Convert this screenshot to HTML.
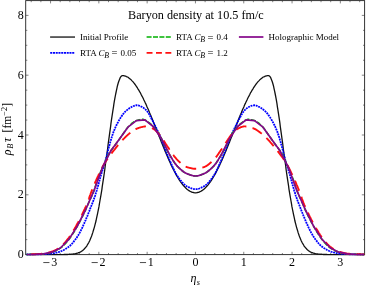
<!DOCTYPE html>
<html><head><meta charset="utf-8"><title>Baryon density</title>
<style>
html,body{margin:0;padding:0;background:#fff;}
body{width:366px;height:286px;overflow:hidden;font-family:"Liberation Serif",serif;}
svg{display:block;will-change:transform;}
text{font-family:"Liberation Serif",serif;fill:#000;}
</style></head><body>
<svg width="366" height="286" viewBox="0 0 366 286">
<rect x="0" y="0" width="366" height="286" fill="#fff"/>
<defs><clipPath id="cp"><rect x="24.7" y="-0.4" width="340.90000000000003" height="256.2"/></clipPath></defs>
<rect x="25.7" y="0.6" width="338.90000000000003" height="254.0" fill="none" stroke="#2a2a2a" stroke-width="0.95"/>
<g stroke="#333" stroke-width="0.6">
<line x1="31.23" y1="254.6" x2="31.23" y2="253.0"/><line x1="31.23" y1="0.6" x2="31.23" y2="2.2"/><line x1="40.89" y1="254.6" x2="40.89" y2="253.0"/><line x1="40.89" y1="0.6" x2="40.89" y2="2.2"/><line x1="50.55" y1="254.6" x2="50.55" y2="251.79999999999998"/><line x1="50.55" y1="0.6" x2="50.55" y2="3.4"/><line x1="60.21" y1="254.6" x2="60.21" y2="253.0"/><line x1="60.21" y1="0.6" x2="60.21" y2="2.2"/><line x1="69.87" y1="254.6" x2="69.87" y2="253.0"/><line x1="69.87" y1="0.6" x2="69.87" y2="2.2"/><line x1="79.53" y1="254.6" x2="79.53" y2="253.0"/><line x1="79.53" y1="0.6" x2="79.53" y2="2.2"/><line x1="89.19" y1="254.6" x2="89.19" y2="253.0"/><line x1="89.19" y1="0.6" x2="89.19" y2="2.2"/><line x1="98.85" y1="254.6" x2="98.85" y2="251.79999999999998"/><line x1="98.85" y1="0.6" x2="98.85" y2="3.4"/><line x1="108.51" y1="254.6" x2="108.51" y2="253.0"/><line x1="108.51" y1="0.6" x2="108.51" y2="2.2"/><line x1="118.17" y1="254.6" x2="118.17" y2="253.0"/><line x1="118.17" y1="0.6" x2="118.17" y2="2.2"/><line x1="127.83" y1="254.6" x2="127.83" y2="253.0"/><line x1="127.83" y1="0.6" x2="127.83" y2="2.2"/><line x1="137.49" y1="254.6" x2="137.49" y2="253.0"/><line x1="137.49" y1="0.6" x2="137.49" y2="2.2"/><line x1="147.15" y1="254.6" x2="147.15" y2="251.79999999999998"/><line x1="147.15" y1="0.6" x2="147.15" y2="3.4"/><line x1="156.81" y1="254.6" x2="156.81" y2="253.0"/><line x1="156.81" y1="0.6" x2="156.81" y2="2.2"/><line x1="166.47" y1="254.6" x2="166.47" y2="253.0"/><line x1="166.47" y1="0.6" x2="166.47" y2="2.2"/><line x1="176.13" y1="254.6" x2="176.13" y2="253.0"/><line x1="176.13" y1="0.6" x2="176.13" y2="2.2"/><line x1="185.79" y1="254.6" x2="185.79" y2="253.0"/><line x1="185.79" y1="0.6" x2="185.79" y2="2.2"/><line x1="195.45" y1="254.6" x2="195.45" y2="251.79999999999998"/><line x1="195.45" y1="0.6" x2="195.45" y2="3.4"/><line x1="205.11" y1="254.6" x2="205.11" y2="253.0"/><line x1="205.11" y1="0.6" x2="205.11" y2="2.2"/><line x1="214.77" y1="254.6" x2="214.77" y2="253.0"/><line x1="214.77" y1="0.6" x2="214.77" y2="2.2"/><line x1="224.43" y1="254.6" x2="224.43" y2="253.0"/><line x1="224.43" y1="0.6" x2="224.43" y2="2.2"/><line x1="234.09" y1="254.6" x2="234.09" y2="253.0"/><line x1="234.09" y1="0.6" x2="234.09" y2="2.2"/><line x1="243.75" y1="254.6" x2="243.75" y2="251.79999999999998"/><line x1="243.75" y1="0.6" x2="243.75" y2="3.4"/><line x1="253.41" y1="254.6" x2="253.41" y2="253.0"/><line x1="253.41" y1="0.6" x2="253.41" y2="2.2"/><line x1="263.07" y1="254.6" x2="263.07" y2="253.0"/><line x1="263.07" y1="0.6" x2="263.07" y2="2.2"/><line x1="272.73" y1="254.6" x2="272.73" y2="253.0"/><line x1="272.73" y1="0.6" x2="272.73" y2="2.2"/><line x1="282.39" y1="254.6" x2="282.39" y2="253.0"/><line x1="282.39" y1="0.6" x2="282.39" y2="2.2"/><line x1="292.05" y1="254.6" x2="292.05" y2="251.79999999999998"/><line x1="292.05" y1="0.6" x2="292.05" y2="3.4"/><line x1="301.71" y1="254.6" x2="301.71" y2="253.0"/><line x1="301.71" y1="0.6" x2="301.71" y2="2.2"/><line x1="311.37" y1="254.6" x2="311.37" y2="253.0"/><line x1="311.37" y1="0.6" x2="311.37" y2="2.2"/><line x1="321.03" y1="254.6" x2="321.03" y2="253.0"/><line x1="321.03" y1="0.6" x2="321.03" y2="2.2"/><line x1="330.69" y1="254.6" x2="330.69" y2="253.0"/><line x1="330.69" y1="0.6" x2="330.69" y2="2.2"/><line x1="340.35" y1="254.6" x2="340.35" y2="251.79999999999998"/><line x1="340.35" y1="0.6" x2="340.35" y2="3.4"/><line x1="350.01" y1="254.6" x2="350.01" y2="253.0"/><line x1="350.01" y1="0.6" x2="350.01" y2="2.2"/><line x1="359.67" y1="254.6" x2="359.67" y2="253.0"/><line x1="359.67" y1="0.6" x2="359.67" y2="2.2"/><line x1="25.7" y1="254.60" x2="28.5" y2="254.60"/><line x1="364.6" y1="254.60" x2="361.8" y2="254.60"/><line x1="25.7" y1="239.65" x2="27.3" y2="239.65"/><line x1="364.6" y1="239.65" x2="363.0" y2="239.65"/><line x1="25.7" y1="224.70" x2="27.3" y2="224.70"/><line x1="364.6" y1="224.70" x2="363.0" y2="224.70"/><line x1="25.7" y1="209.75" x2="27.3" y2="209.75"/><line x1="364.6" y1="209.75" x2="363.0" y2="209.75"/><line x1="25.7" y1="194.80" x2="28.5" y2="194.80"/><line x1="364.6" y1="194.80" x2="361.8" y2="194.80"/><line x1="25.7" y1="179.85" x2="27.3" y2="179.85"/><line x1="364.6" y1="179.85" x2="363.0" y2="179.85"/><line x1="25.7" y1="164.90" x2="27.3" y2="164.90"/><line x1="364.6" y1="164.90" x2="363.0" y2="164.90"/><line x1="25.7" y1="149.95" x2="27.3" y2="149.95"/><line x1="364.6" y1="149.95" x2="363.0" y2="149.95"/><line x1="25.7" y1="135.00" x2="28.5" y2="135.00"/><line x1="364.6" y1="135.00" x2="361.8" y2="135.00"/><line x1="25.7" y1="120.05" x2="27.3" y2="120.05"/><line x1="364.6" y1="120.05" x2="363.0" y2="120.05"/><line x1="25.7" y1="105.10" x2="27.3" y2="105.10"/><line x1="364.6" y1="105.10" x2="363.0" y2="105.10"/><line x1="25.7" y1="90.15" x2="27.3" y2="90.15"/><line x1="364.6" y1="90.15" x2="363.0" y2="90.15"/><line x1="25.7" y1="75.20" x2="28.5" y2="75.20"/><line x1="364.6" y1="75.20" x2="361.8" y2="75.20"/><line x1="25.7" y1="60.25" x2="27.3" y2="60.25"/><line x1="364.6" y1="60.25" x2="363.0" y2="60.25"/><line x1="25.7" y1="45.30" x2="27.3" y2="45.30"/><line x1="364.6" y1="45.30" x2="363.0" y2="45.30"/><line x1="25.7" y1="30.35" x2="27.3" y2="30.35"/><line x1="364.6" y1="30.35" x2="363.0" y2="30.35"/><line x1="25.7" y1="15.40" x2="28.5" y2="15.40"/><line x1="364.6" y1="15.40" x2="361.8" y2="15.40"/>
</g>
<g clip-path="url(#cp)" fill="none" stroke-linejoin="round">
<path d="M26.4,254.6 L26.9,254.6 L27.4,254.6 L27.9,254.6 L28.3,254.6 L28.8,254.6 L29.3,254.6 L29.8,254.6 L30.3,254.6 L30.8,254.6 L31.2,254.6 L31.7,254.6 L32.2,254.6 L32.7,254.6 L33.2,254.6 L33.7,254.6 L34.1,254.6 L34.6,254.6 L35.1,254.6 L35.6,254.6 L36.1,254.6 L36.6,254.6 L37.0,254.6 L37.5,254.6 L38.0,254.6 L38.5,254.6 L39.0,254.6 L39.5,254.6 L39.9,254.6 L40.4,254.6 L40.9,254.6 L41.4,254.6 L41.9,254.6 L42.4,254.6 L42.8,254.6 L43.3,254.6 L43.8,254.6 L44.3,254.6 L44.8,254.6 L45.3,254.6 L45.7,254.6 L46.2,254.6 L46.7,254.6 L47.2,254.6 L47.7,254.6 L48.2,254.6 L48.6,254.6 L49.1,254.6 L49.6,254.6 L50.1,254.6 L50.6,254.6 L51.1,254.6 L51.6,254.6 L52.0,254.6 L52.5,254.6 L53.0,254.6 L53.5,254.6 L54.0,254.6 L54.5,254.6 L54.9,254.6 L55.4,254.6 L55.9,254.6 L56.4,254.6 L56.9,254.6 L57.4,254.6 L57.8,254.6 L58.3,254.6 L58.8,254.6 L59.3,254.6 L59.8,254.6 L60.3,254.6 L60.7,254.6 L61.2,254.6 L61.7,254.6 L62.2,254.6 L62.7,254.6 L63.2,254.6 L63.6,254.6 L64.1,254.5 L64.6,254.5 L65.1,254.5 L65.6,254.5 L66.1,254.5 L66.5,254.5 L67.0,254.5 L67.5,254.5 L68.0,254.4 L68.5,254.4 L69.0,254.4 L69.4,254.4 L69.9,254.3 L70.4,254.3 L70.9,254.3 L71.4,254.2 L71.9,254.2 L72.4,254.1 L72.8,254.1 L73.3,254.0 L73.8,254.0 L74.3,253.9 L74.8,253.8 L75.3,253.7 L75.7,253.6 L76.2,253.5 L76.7,253.4 L77.2,253.2 L77.7,253.1 L78.2,252.9 L78.6,252.7 L79.1,252.5 L79.6,252.3 L80.1,252.1 L80.6,251.8 L81.1,251.6 L81.5,251.3 L82.0,250.9 L82.5,250.6 L83.0,250.2 L83.5,249.8 L84.0,249.3 L84.4,248.8 L84.9,248.3 L85.4,247.7 L85.9,247.1 L86.4,246.5 L86.9,245.8 L87.3,245.0 L87.8,244.2 L88.3,243.4 L88.8,242.5 L89.3,241.5 L89.8,240.5 L90.2,239.4 L90.7,238.2 L91.2,237.0 L91.7,235.7 L92.2,234.3 L92.7,232.9 L93.1,231.4 L93.6,229.7 L94.1,228.1 L94.6,226.3 L95.1,224.4 L95.6,222.5 L96.1,220.5 L96.5,218.3 L97.0,216.1 L97.5,213.8 L98.0,211.4 L98.5,209.0 L99.0,206.4 L99.4,203.8 L99.9,201.0 L100.4,198.2 L100.9,195.3 L101.4,192.3 L101.9,189.3 L102.3,186.1 L102.8,182.9 L103.3,179.7 L103.8,176.3 L104.3,173.0 L104.8,169.5 L105.2,166.0 L105.7,162.5 L106.2,158.9 L106.7,155.4 L107.2,151.8 L107.7,148.1 L108.1,144.5 L108.6,140.9 L109.1,137.3 L109.6,133.7 L110.1,130.1 L110.6,126.6 L111.0,123.2 L111.5,119.7 L112.0,116.4 L112.5,113.1 L113.0,109.9 L113.5,106.8 L113.9,103.8 L114.4,100.9 L114.9,98.2 L115.4,95.5 L115.9,93.0 L116.4,90.7 L116.9,88.4 L117.3,86.4 L117.8,84.5 L118.3,82.8 L118.8,81.2 L119.3,79.9 L119.8,78.7 L120.2,77.7 L120.7,76.9 L121.2,76.3 L121.7,75.9 L122.2,75.7 L122.7,75.6 L123.1,75.7 L123.6,75.7 L124.1,75.8 L124.6,75.9 L125.1,76.0 L125.6,76.2 L126.0,76.3 L126.5,76.6 L127.0,76.8 L127.5,77.0 L128.0,77.3 L128.5,77.6 L128.9,78.0 L129.4,78.4 L129.9,78.7 L130.4,79.2 L130.9,79.6 L131.4,80.1 L131.8,80.6 L132.3,81.1 L132.8,81.6 L133.3,82.2 L133.8,82.8 L134.3,83.4 L134.7,84.0 L135.2,84.7 L135.7,85.4 L136.2,86.1 L136.7,86.8 L137.2,87.5 L137.6,88.3 L138.1,89.1 L138.6,89.9 L139.1,90.7 L139.6,91.6 L140.1,92.4 L140.6,93.3 L141.0,94.2 L141.5,95.1 L142.0,96.1 L142.5,97.0 L143.0,98.0 L143.5,99.0 L143.9,100.0 L144.4,101.0 L144.9,102.0 L145.4,103.1 L145.9,104.1 L146.4,105.2 L146.8,106.3 L147.3,107.4 L147.8,108.5 L148.3,109.6 L148.8,110.7 L149.3,111.9 L149.7,113.0 L150.2,114.2 L150.7,115.3 L151.2,116.5 L151.7,117.7 L152.2,118.9 L152.6,120.1 L153.1,121.3 L153.6,122.5 L154.1,123.7 L154.6,124.9 L155.1,126.1 L155.5,127.3 L156.0,128.5 L156.5,129.7 L157.0,131.0 L157.5,132.2 L158.0,133.4 L158.4,134.6 L158.9,135.9 L159.4,137.1 L159.9,138.3 L160.4,139.5 L160.9,140.7 L161.3,141.9 L161.8,143.1 L162.3,144.3 L162.8,145.5 L163.3,146.7 L163.8,147.9 L164.3,149.1 L164.7,150.2 L165.2,151.4 L165.7,152.6 L166.2,153.7 L166.7,154.8 L167.2,156.0 L167.6,157.1 L168.1,158.2 L168.6,159.3 L169.1,160.4 L169.6,161.4 L170.1,162.5 L170.5,163.5 L171.0,164.6 L171.5,165.6 L172.0,166.6 L172.5,167.6 L173.0,168.6 L173.4,169.5 L173.9,170.5 L174.4,171.4 L174.9,172.3 L175.4,173.2 L175.9,174.1 L176.3,175.0 L176.8,175.8 L177.3,176.7 L177.8,177.5 L178.3,178.3 L178.8,179.1 L179.2,179.8 L179.7,180.5 L180.2,181.3 L180.7,182.0 L181.2,182.6 L181.7,183.3 L182.1,183.9 L182.6,184.6 L183.1,185.2 L183.6,185.7 L184.1,186.3 L184.6,186.8 L185.1,187.3 L185.5,187.8 L186.0,188.3 L186.5,188.7 L187.0,189.2 L187.5,189.6 L188.0,189.9 L188.4,190.3 L188.9,190.6 L189.4,190.9 L189.9,191.2 L190.4,191.5 L190.9,191.7 L191.3,191.9 L191.8,192.1 L192.3,192.3 L192.8,192.4 L193.3,192.5 L193.8,192.6 L194.2,192.7 L194.7,192.8 L195.2,192.8 L195.7,192.8 L196.2,192.8 L196.7,192.7 L197.1,192.6 L197.6,192.5 L198.1,192.4 L198.6,192.3 L199.1,192.1 L199.6,191.9 L200.0,191.7 L200.5,191.5 L201.0,191.2 L201.5,190.9 L202.0,190.6 L202.5,190.3 L202.9,189.9 L203.4,189.6 L203.9,189.2 L204.4,188.7 L204.9,188.3 L205.4,187.8 L205.8,187.3 L206.3,186.8 L206.8,186.3 L207.3,185.7 L207.8,185.2 L208.3,184.6 L208.8,183.9 L209.2,183.3 L209.7,182.6 L210.2,182.0 L210.7,181.3 L211.2,180.5 L211.7,179.8 L212.1,179.1 L212.6,178.3 L213.1,177.5 L213.6,176.7 L214.1,175.8 L214.6,175.0 L215.0,174.1 L215.5,173.2 L216.0,172.3 L216.5,171.4 L217.0,170.5 L217.5,169.5 L217.9,168.6 L218.4,167.6 L218.9,166.6 L219.4,165.6 L219.9,164.6 L220.4,163.5 L220.8,162.5 L221.3,161.4 L221.8,160.4 L222.3,159.3 L222.8,158.2 L223.3,157.1 L223.7,156.0 L224.2,154.8 L224.7,153.7 L225.2,152.6 L225.7,151.4 L226.2,150.2 L226.6,149.1 L227.1,147.9 L227.6,146.7 L228.1,145.5 L228.6,144.3 L229.1,143.1 L229.6,141.9 L230.0,140.7 L230.5,139.5 L231.0,138.3 L231.5,137.1 L232.0,135.9 L232.5,134.6 L232.9,133.4 L233.4,132.2 L233.9,131.0 L234.4,129.7 L234.9,128.5 L235.4,127.3 L235.8,126.1 L236.3,124.9 L236.8,123.7 L237.3,122.5 L237.8,121.3 L238.3,120.1 L238.7,118.9 L239.2,117.7 L239.7,116.5 L240.2,115.3 L240.7,114.2 L241.2,113.0 L241.6,111.9 L242.1,110.7 L242.6,109.6 L243.1,108.5 L243.6,107.4 L244.1,106.3 L244.5,105.2 L245.0,104.1 L245.5,103.1 L246.0,102.0 L246.5,101.0 L247.0,100.0 L247.4,99.0 L247.9,98.0 L248.4,97.0 L248.9,96.1 L249.4,95.1 L249.9,94.2 L250.3,93.3 L250.8,92.4 L251.3,91.6 L251.8,90.7 L252.3,89.9 L252.8,89.1 L253.3,88.3 L253.7,87.5 L254.2,86.8 L254.7,86.1 L255.2,85.4 L255.7,84.7 L256.2,84.0 L256.6,83.4 L257.1,82.8 L257.6,82.2 L258.1,81.6 L258.6,81.1 L259.1,80.6 L259.5,80.1 L260.0,79.6 L260.5,79.2 L261.0,78.7 L261.5,78.4 L262.0,78.0 L262.4,77.6 L262.9,77.3 L263.4,77.0 L263.9,76.8 L264.4,76.6 L264.9,76.3 L265.3,76.2 L265.8,76.0 L266.3,75.9 L266.8,75.8 L267.3,75.7 L267.8,75.7 L268.2,75.6 L268.7,75.7 L269.2,75.9 L269.7,76.3 L270.2,76.9 L270.7,77.7 L271.1,78.7 L271.6,79.9 L272.1,81.2 L272.6,82.8 L273.1,84.5 L273.6,86.4 L274.0,88.4 L274.5,90.7 L275.0,93.0 L275.5,95.5 L276.0,98.2 L276.5,100.9 L277.0,103.8 L277.4,106.8 L277.9,109.9 L278.4,113.1 L278.9,116.4 L279.4,119.7 L279.9,123.2 L280.3,126.6 L280.8,130.1 L281.3,133.7 L281.8,137.3 L282.3,140.9 L282.8,144.5 L283.2,148.1 L283.7,151.8 L284.2,155.4 L284.7,158.9 L285.2,162.5 L285.7,166.0 L286.1,169.5 L286.6,173.0 L287.1,176.3 L287.6,179.7 L288.1,182.9 L288.6,186.1 L289.0,189.3 L289.5,192.3 L290.0,195.3 L290.5,198.2 L291.0,201.0 L291.5,203.8 L291.9,206.4 L292.4,209.0 L292.9,211.4 L293.4,213.8 L293.9,216.1 L294.4,218.3 L294.8,220.5 L295.3,222.5 L295.8,224.4 L296.3,226.3 L296.8,228.1 L297.3,229.7 L297.8,231.4 L298.2,232.9 L298.7,234.3 L299.2,235.7 L299.7,237.0 L300.2,238.2 L300.7,239.4 L301.1,240.5 L301.6,241.5 L302.1,242.5 L302.6,243.4 L303.1,244.2 L303.6,245.0 L304.0,245.8 L304.5,246.5 L305.0,247.1 L305.5,247.7 L306.0,248.3 L306.5,248.8 L306.9,249.3 L307.4,249.8 L307.9,250.2 L308.4,250.6 L308.9,250.9 L309.4,251.3 L309.8,251.6 L310.3,251.8 L310.8,252.1 L311.3,252.3 L311.8,252.5 L312.3,252.7 L312.7,252.9 L313.2,253.1 L313.7,253.2 L314.2,253.4 L314.7,253.5 L315.2,253.6 L315.6,253.7 L316.1,253.8 L316.6,253.9 L317.1,254.0 L317.6,254.0 L318.1,254.1 L318.5,254.1 L319.0,254.2 L319.5,254.2 L320.0,254.3 L320.5,254.3 L321.0,254.3 L321.5,254.4 L321.9,254.4 L322.4,254.4 L322.9,254.4 L323.4,254.5 L323.9,254.5 L324.4,254.5 L324.8,254.5 L325.3,254.5 L325.8,254.5 L326.3,254.5 L326.8,254.5 L327.3,254.6 L327.7,254.6 L328.2,254.6 L328.7,254.6 L329.2,254.6 L329.7,254.6 L330.2,254.6 L330.6,254.6 L331.1,254.6 L331.6,254.6 L332.1,254.6 L332.6,254.6 L333.1,254.6 L333.5,254.6 L334.0,254.6 L334.5,254.6 L335.0,254.6 L335.5,254.6 L336.0,254.6 L336.4,254.6 L336.9,254.6 L337.4,254.6 L337.9,254.6 L338.4,254.6 L338.9,254.6 L339.3,254.6 L339.8,254.6 L340.3,254.6 L340.8,254.6 L341.3,254.6 L341.8,254.6 L342.3,254.6 L342.7,254.6 L343.2,254.6 L343.7,254.6 L344.2,254.6 L344.7,254.6 L345.2,254.6 L345.6,254.6 L346.1,254.6 L346.6,254.6 L347.1,254.6 L347.6,254.6 L348.1,254.6 L348.5,254.6 L349.0,254.6 L349.5,254.6 L350.0,254.6 L350.5,254.6 L351.0,254.6 L351.4,254.6 L351.9,254.6 L352.4,254.6 L352.9,254.6 L353.4,254.6 L353.9,254.6 L354.3,254.6 L354.8,254.6 L355.3,254.6 L355.8,254.6 L356.3,254.6 L356.8,254.6 L357.2,254.6 L357.7,254.6 L358.2,254.6 L358.7,254.6 L359.2,254.6 L359.7,254.6 L360.1,254.6 L360.6,254.6 L361.1,254.6 L361.6,254.6 L362.1,254.6 L362.6,254.6 L363.0,254.6 L363.5,254.6 L364.0,254.6 L364.5,254.6" stroke="#111" stroke-width="1.3"/>
<path d="M26.5,254.5 L27.3,254.5 L28.2,254.5 L29.0,254.5 L29.9,254.5 L30.7,254.5 L31.6,254.5 L32.4,254.5 L33.3,254.4 L34.1,254.4 L35.0,254.4 L35.8,254.4 L36.7,254.4 L37.5,254.4 L38.4,254.3 L39.2,254.3 L40.0,254.3 L40.9,254.3 L41.7,254.3 L42.6,254.2 L43.4,254.2 L44.3,254.1 L45.1,254.1 L46.0,254.1 L46.8,254.0 L47.7,253.9 L48.5,253.9 L49.4,253.8 L50.2,253.7 L51.1,253.6 L51.9,253.5 L52.8,253.4 L53.6,253.2 L54.4,253.1 L55.3,252.9 L56.1,252.7 L57.0,252.5 L57.8,252.2 L58.7,252.0 L59.5,251.8 L60.4,251.5 L61.2,251.2 L62.1,250.8 L62.9,250.4 L63.8,250.0 L64.6,249.5 L65.5,249.0 L66.3,248.4 L67.1,247.9 L68.0,247.3 L68.8,246.7 L69.7,246.0 L70.5,245.3 L71.4,244.4 L72.2,243.5 L73.1,242.5 L73.9,241.4 L74.8,240.3 L75.6,239.2 L76.5,238.0 L77.3,236.7 L78.2,235.4 L79.0,233.9 L79.9,232.4 L80.7,230.8 L81.5,229.1 L82.4,227.4 L83.2,225.5 L84.1,223.6 L84.9,221.7 L85.8,219.7 L86.6,217.7 L87.5,215.6 L88.3,213.5 L89.2,211.4 L90.0,209.2 L90.9,207.0 L91.7,204.8 L92.6,202.7 L93.4,200.5 L94.2,198.2 L95.1,195.7 L95.9,193.1 L96.8,190.2 L97.6,187.3 L98.5,184.3 L99.3,181.2 L100.2,177.9 L101.0,174.9 L101.9,172.1 L102.7,169.5 L103.6,166.8 L104.4,164.1 L105.3,161.2 L106.1,158.1 L107.0,154.8 L107.8,151.5 L108.6,148.2 L109.5,145.1 L110.3,142.1 L111.2,139.1 L112.0,136.3 L112.9,133.7 L113.7,131.4 L114.6,129.3 L115.4,127.4 L116.3,125.5 L117.1,123.8 L118.0,122.2 L118.8,120.7 L119.7,119.3 L120.5,117.9 L121.3,116.6 L122.2,115.4 L123.0,114.2 L123.9,113.1 L124.7,112.2 L125.6,111.3 L126.4,110.6 L127.3,109.8 L128.1,109.2 L129.0,108.5 L129.8,108.0 L130.7,107.5 L131.5,107.0 L132.4,106.6 L133.2,106.2 L134.1,105.8 L134.9,105.5 L135.7,105.3 L136.6,105.2 L137.4,105.3 L138.3,105.4 L139.1,105.7 L140.0,106.0 L140.8,106.4 L141.7,106.8 L142.5,107.2 L143.4,107.7 L144.2,108.4 L145.1,109.1 L145.9,109.9 L146.8,110.9 L147.6,111.8 L148.4,113.0 L149.3,114.5 L150.1,116.0 L151.0,117.7 L151.8,119.3 L152.7,120.9 L153.5,122.6 L154.4,124.3 L155.2,126.0 L156.1,127.7 L156.9,129.5 L157.8,131.2 L158.6,133.0 L159.5,134.9 L160.3,136.9 L161.2,139.0 L162.0,141.1 L162.8,143.3 L163.7,145.5 L164.5,147.7 L165.4,149.9 L166.2,152.0 L167.1,154.1 L167.9,156.1 L168.8,158.1 L169.6,160.0 L170.5,162.0 L171.3,164.0 L172.2,165.9 L173.0,167.8 L173.9,169.6 L174.7,171.3 L175.5,173.0 L176.4,174.5 L177.2,175.8 L178.1,177.0 L178.9,178.2 L179.8,179.3 L180.6,180.4 L181.5,181.5 L182.3,182.4 L183.2,183.4 L184.0,184.2 L184.9,184.9 L185.7,185.6 L186.6,186.2 L187.4,186.6 L188.3,187.0 L189.1,187.4 L189.9,187.8 L190.8,188.1 L191.6,188.4 L192.5,188.7 L193.3,188.9 L194.2,189.1 L195.0,189.2 L195.9,189.2 L196.7,189.1 L197.6,189.0 L198.4,188.8 L199.3,188.5 L200.1,188.2 L201.0,187.8 L201.8,187.4 L202.6,187.0 L203.5,186.6 L204.3,186.1 L205.2,185.6 L206.0,184.9 L206.9,184.2 L207.7,183.3 L208.6,182.4 L209.4,181.4 L210.3,180.4 L211.1,179.3 L212.0,178.2 L212.8,177.0 L213.7,175.8 L214.5,174.5 L215.4,173.0 L216.2,171.3 L217.0,169.6 L217.9,167.8 L218.7,165.9 L219.6,164.0 L220.4,162.0 L221.3,160.0 L222.1,158.1 L223.0,156.1 L223.8,154.1 L224.7,152.0 L225.5,149.9 L226.4,147.7 L227.2,145.5 L228.1,143.3 L228.9,141.1 L229.7,139.0 L230.6,136.9 L231.4,134.9 L232.3,133.0 L233.1,131.2 L234.0,129.5 L234.8,127.7 L235.7,126.0 L236.5,124.3 L237.4,122.6 L238.2,120.9 L239.1,119.3 L239.9,117.7 L240.8,116.0 L241.6,114.5 L242.5,113.0 L243.3,111.8 L244.1,110.9 L245.0,109.9 L245.8,109.1 L246.7,108.4 L247.5,107.7 L248.4,107.2 L249.2,106.8 L250.1,106.4 L250.9,106.0 L251.8,105.7 L252.6,105.4 L253.5,105.3 L254.3,105.2 L255.2,105.3 L256.0,105.5 L256.8,105.8 L257.7,106.2 L258.5,106.6 L259.4,107.0 L260.2,107.5 L261.1,108.0 L261.9,108.5 L262.8,109.2 L263.6,109.8 L264.5,110.6 L265.3,111.3 L266.2,112.2 L267.0,113.1 L267.9,114.2 L268.7,115.4 L269.6,116.6 L270.4,117.9 L271.2,119.3 L272.1,120.7 L272.9,122.2 L273.8,123.8 L274.6,125.5 L275.5,127.4 L276.3,129.3 L277.2,131.4 L278.0,133.7 L278.9,136.3 L279.7,139.1 L280.6,142.1 L281.4,145.1 L282.3,148.2 L283.1,151.5 L283.9,154.8 L284.8,158.1 L285.6,161.2 L286.5,164.1 L287.3,166.8 L288.2,169.5 L289.0,172.1 L289.9,174.9 L290.7,177.9 L291.6,181.2 L292.4,184.3 L293.3,187.3 L294.1,190.2 L295.0,193.1 L295.8,195.7 L296.7,198.2 L297.5,200.5 L298.3,202.7 L299.2,204.8 L300.0,207.0 L300.9,209.2 L301.7,211.4 L302.6,213.5 L303.4,215.6 L304.3,217.7 L305.1,219.7 L306.0,221.7 L306.8,223.6 L307.7,225.5 L308.5,227.4 L309.4,229.1 L310.2,230.8 L311.0,232.4 L311.9,233.9 L312.7,235.4 L313.6,236.7 L314.4,238.0 L315.3,239.2 L316.1,240.3 L317.0,241.4 L317.8,242.5 L318.7,243.5 L319.5,244.4 L320.4,245.3 L321.2,246.0 L322.1,246.7 L322.9,247.3 L323.8,247.9 L324.6,248.4 L325.4,249.0 L326.3,249.5 L327.1,250.0 L328.0,250.4 L328.8,250.8 L329.7,251.2 L330.5,251.5 L331.4,251.8 L332.2,252.0 L333.1,252.2 L333.9,252.5 L334.8,252.7 L335.6,252.9 L336.5,253.1 L337.3,253.2 L338.1,253.4 L339.0,253.5 L339.8,253.6 L340.7,253.7 L341.5,253.8 L342.4,253.9 L343.2,253.9 L344.1,254.0 L344.9,254.1 L345.8,254.1 L346.6,254.1 L347.5,254.2 L348.3,254.2 L349.2,254.3 L350.0,254.3 L350.9,254.3 L351.7,254.3 L352.5,254.3 L353.4,254.4 L354.2,254.4 L355.1,254.4 L355.9,254.4 L356.8,254.4 L357.6,254.4 L358.5,254.5 L359.3,254.5 L360.2,254.5 L361.0,254.5 L361.9,254.5 L362.7,254.5 L363.6,254.5 L364.4,254.5" stroke="#0000ff" stroke-width="1.8" stroke-dasharray="1.9 0.75"/>
<path d="M26.5,254.5 L27.3,254.5 L28.2,254.5 L29.0,254.5 L29.9,254.5 L30.7,254.4 L31.6,254.4 L32.4,254.4 L33.3,254.4 L34.1,254.4 L35.0,254.3 L35.8,254.3 L36.7,254.3 L37.5,254.2 L38.4,254.2 L39.2,254.2 L40.0,254.1 L40.9,254.1 L41.7,254.0 L42.6,254.0 L43.4,253.9 L44.3,253.8 L45.1,253.8 L46.0,253.6 L46.8,253.5 L47.7,253.3 L48.5,253.2 L49.4,252.9 L50.2,252.7 L51.1,252.5 L51.9,252.2 L52.8,251.9 L53.6,251.6 L54.4,251.3 L55.3,251.0 L56.1,250.6 L57.0,250.2 L57.8,249.7 L58.7,249.2 L59.5,248.6 L60.4,248.0 L61.2,247.4 L62.1,246.8 L62.9,246.1 L63.8,245.3 L64.6,244.4 L65.5,243.5 L66.3,242.5 L67.1,241.5 L68.0,240.5 L68.8,239.5 L69.7,238.4 L70.5,237.2 L71.4,236.0 L72.2,234.7 L73.1,233.3 L73.9,232.0 L74.8,230.6 L75.6,229.2 L76.5,227.7 L77.3,226.2 L78.2,224.6 L79.0,223.1 L79.9,221.5 L80.7,219.9 L81.5,218.3 L82.4,216.6 L83.2,214.9 L84.1,213.1 L84.9,211.3 L85.8,209.4 L86.6,207.4 L87.5,205.5 L88.3,203.5 L89.2,201.6 L90.0,199.7 L90.9,197.9 L91.7,196.1 L92.6,194.2 L93.4,192.1 L94.2,189.9 L95.1,187.3 L95.9,184.7 L96.8,182.1 L97.6,179.7 L98.5,177.3 L99.3,175.0 L100.2,172.8 L101.0,170.7 L101.9,168.8 L102.7,166.9 L103.6,165.1 L104.4,163.3 L105.3,161.5 L106.1,159.6 L107.0,157.8 L107.8,156.0 L108.6,154.4 L109.5,152.9 L110.3,151.6 L111.2,150.3 L112.0,149.2 L112.9,148.1 L113.7,147.0 L114.6,145.9 L115.4,144.7 L116.3,143.5 L117.1,142.3 L118.0,141.1 L118.8,139.9 L119.7,138.7 L120.5,137.5 L121.3,136.3 L122.2,135.2 L123.0,134.0 L123.9,132.7 L124.7,131.5 L125.6,130.3 L126.4,129.1 L127.3,128.0 L128.1,127.0 L129.0,126.1 L129.8,125.3 L130.7,124.5 L131.5,123.7 L132.4,123.0 L133.2,122.3 L134.1,121.7 L134.9,121.2 L135.7,120.8 L136.6,120.5 L137.4,120.2 L138.3,120.0 L139.1,119.8 L140.0,119.6 L140.8,119.4 L141.7,119.3 L142.5,119.3 L143.4,119.4 L144.2,119.7 L145.1,120.0 L145.9,120.5 L146.8,121.1 L147.6,121.6 L148.4,122.2 L149.3,122.8 L150.1,123.5 L151.0,124.2 L151.8,125.0 L152.7,125.9 L153.5,126.8 L154.4,127.7 L155.2,128.7 L156.1,129.8 L156.9,131.0 L157.8,132.2 L158.6,133.5 L159.5,134.9 L160.3,136.4 L161.2,138.0 L162.0,139.7 L162.8,141.5 L163.7,143.3 L164.5,145.1 L165.4,146.9 L166.2,148.6 L167.1,150.3 L167.9,151.9 L168.8,153.3 L169.6,154.8 L170.5,156.2 L171.3,157.6 L172.2,159.0 L173.0,160.4 L173.9,161.7 L174.7,162.9 L175.5,164.1 L176.4,165.2 L177.2,166.1 L178.1,167.0 L178.9,167.8 L179.8,168.6 L180.6,169.4 L181.5,170.1 L182.3,170.8 L183.2,171.5 L184.0,172.1 L184.9,172.6 L185.7,173.1 L186.6,173.5 L187.4,173.9 L188.3,174.2 L189.1,174.5 L189.9,174.8 L190.8,175.1 L191.6,175.4 L192.5,175.6 L193.3,175.8 L194.2,175.9 L195.0,176.0 L195.9,176.0 L196.7,175.9 L197.6,175.8 L198.4,175.6 L199.3,175.4 L200.1,175.2 L201.0,174.9 L201.8,174.5 L202.6,174.2 L203.5,173.9 L204.3,173.5 L205.2,173.1 L206.0,172.6 L206.9,172.1 L207.7,171.5 L208.6,170.8 L209.4,170.1 L210.3,169.4 L211.1,168.6 L212.0,167.8 L212.8,167.0 L213.7,166.1 L214.5,165.2 L215.4,164.1 L216.2,162.9 L217.0,161.7 L217.9,160.4 L218.7,159.0 L219.6,157.6 L220.4,156.2 L221.3,154.8 L222.1,153.3 L223.0,151.9 L223.8,150.3 L224.7,148.6 L225.5,146.9 L226.4,145.1 L227.2,143.3 L228.1,141.5 L228.9,139.7 L229.7,138.0 L230.6,136.4 L231.4,134.9 L232.3,133.5 L233.1,132.2 L234.0,131.0 L234.8,129.8 L235.7,128.7 L236.5,127.7 L237.4,126.8 L238.2,125.9 L239.1,125.0 L239.9,124.2 L240.8,123.5 L241.6,122.8 L242.5,122.2 L243.3,121.6 L244.1,121.1 L245.0,120.5 L245.8,120.0 L246.7,119.7 L247.5,119.4 L248.4,119.3 L249.2,119.3 L250.1,119.4 L250.9,119.6 L251.8,119.8 L252.6,120.0 L253.5,120.2 L254.3,120.5 L255.2,120.8 L256.0,121.2 L256.8,121.7 L257.7,122.3 L258.5,123.0 L259.4,123.7 L260.2,124.5 L261.1,125.3 L261.9,126.1 L262.8,127.0 L263.6,128.0 L264.5,129.1 L265.3,130.3 L266.2,131.5 L267.0,132.7 L267.9,134.0 L268.7,135.2 L269.6,136.3 L270.4,137.5 L271.2,138.7 L272.1,139.9 L272.9,141.1 L273.8,142.3 L274.6,143.5 L275.5,144.7 L276.3,145.9 L277.2,147.0 L278.0,148.1 L278.9,149.2 L279.7,150.3 L280.6,151.6 L281.4,152.9 L282.3,154.4 L283.1,156.0 L283.9,157.8 L284.8,159.6 L285.6,161.5 L286.5,163.3 L287.3,165.1 L288.2,166.9 L289.0,168.8 L289.9,170.7 L290.7,172.8 L291.6,175.0 L292.4,177.3 L293.3,179.7 L294.1,182.1 L295.0,184.7 L295.8,187.3 L296.7,189.9 L297.5,192.1 L298.3,194.2 L299.2,196.1 L300.0,197.9 L300.9,199.7 L301.7,201.6 L302.6,203.5 L303.4,205.5 L304.3,207.4 L305.1,209.4 L306.0,211.3 L306.8,213.1 L307.7,214.9 L308.5,216.6 L309.4,218.3 L310.2,219.9 L311.0,221.5 L311.9,223.1 L312.7,224.6 L313.6,226.2 L314.4,227.7 L315.3,229.2 L316.1,230.6 L317.0,232.0 L317.8,233.3 L318.7,234.7 L319.5,236.0 L320.4,237.2 L321.2,238.4 L322.1,239.5 L322.9,240.5 L323.8,241.5 L324.6,242.5 L325.4,243.5 L326.3,244.4 L327.1,245.3 L328.0,246.1 L328.8,246.8 L329.7,247.4 L330.5,248.0 L331.4,248.6 L332.2,249.2 L333.1,249.7 L333.9,250.2 L334.8,250.6 L335.6,251.0 L336.5,251.3 L337.3,251.6 L338.1,251.9 L339.0,252.2 L339.8,252.5 L340.7,252.7 L341.5,252.9 L342.4,253.2 L343.2,253.3 L344.1,253.5 L344.9,253.6 L345.8,253.8 L346.6,253.8 L347.5,253.9 L348.3,254.0 L349.2,254.0 L350.0,254.1 L350.9,254.1 L351.7,254.2 L352.5,254.2 L353.4,254.2 L354.2,254.3 L355.1,254.3 L355.9,254.3 L356.8,254.4 L357.6,254.4 L358.5,254.4 L359.3,254.4 L360.2,254.4 L361.0,254.5 L361.9,254.5 L362.7,254.5 L363.6,254.5 L364.4,254.5" stroke="#00b000" stroke-width="1.6" stroke-dasharray="5 1.6"/>
<path d="M26.5,254.4 L26.9,254.4 L27.3,254.4 L27.8,254.4 L28.2,254.4 L28.6,254.4 L29.0,254.4 L29.5,254.4 L29.9,254.4 L30.3,254.3 L30.7,254.3 L31.2,254.3 L31.6,254.3 L32.0,254.3 L32.4,254.3 L32.8,254.3 L33.3,254.3 L33.7,254.2 L34.1,254.2 L34.5,254.2 L35.0,254.2 L35.4,254.2 L35.8,254.2 L36.2,254.2 L36.6,254.1 L37.1,254.1 L37.5,254.1 L37.9,254.1 L38.3,254.0 L38.8,254.0 L39.2,254.0 L39.6,254.0 L40.0,253.9 L40.5,253.9 L40.9,253.9 L41.3,253.8 L41.7,253.8 L42.1,253.7 L42.6,253.7 L43.0,253.7 L43.4,253.6 L43.8,253.6 L44.3,253.5 L44.7,253.4 L45.1,253.4 L45.5,253.3 L46.0,253.2 L46.4,253.1 L46.8,253.1 L47.2,253.0 L47.6,252.9 L48.1,252.7 L48.5,252.6 L48.9,252.5 L49.3,252.4 L49.8,252.3 L50.2,252.2 L50.6,252.0 L51.0,251.9 L51.5,251.7 L51.9,251.6 L52.3,251.5 L52.7,251.3 L53.1,251.2 L53.6,251.0 L54.0,250.8 L54.4,250.6 L54.8,250.5 L55.3,250.2 L55.7,250.0 L56.1,249.8 L56.5,249.6 L56.9,249.3 L57.4,249.0 L57.8,248.8 L58.2,248.5 L58.6,248.2 L59.1,247.9 L59.5,247.6 L59.9,247.3 L60.3,247.0 L60.8,246.7 L61.2,246.3 L61.6,246.0 L62.0,245.6 L62.4,245.2 L62.9,244.8 L63.3,244.3 L63.7,243.9 L64.1,243.4 L64.6,243.0 L65.0,242.5 L65.4,242.0 L65.8,241.5 L66.3,241.0 L66.7,240.5 L67.1,239.9 L67.5,239.4 L67.9,238.9 L68.4,238.3 L68.8,237.8 L69.2,237.2 L69.6,236.6 L70.1,235.9 L70.5,235.3 L70.9,234.7 L71.3,234.0 L71.8,233.3 L72.2,232.7 L72.6,232.0 L73.0,231.3 L73.4,230.6 L73.9,229.9 L74.3,229.2 L74.7,228.5 L75.1,227.7 L75.6,227.0 L76.0,226.2 L76.4,225.5 L76.8,224.7 L77.2,223.9 L77.7,223.1 L78.1,222.4 L78.5,221.6 L78.9,220.8 L79.4,220.0 L79.8,219.2 L80.2,218.3 L80.6,217.5 L81.1,216.7 L81.5,215.8 L81.9,215.0 L82.3,214.1 L82.7,213.2 L83.2,212.3 L83.6,211.4 L84.0,210.5 L84.4,209.6 L84.9,208.7 L85.3,207.7 L85.7,206.8 L86.1,205.8 L86.6,204.8 L87.0,203.8 L87.4,202.8 L87.8,201.7 L88.2,200.6 L88.7,199.4 L89.1,198.2 L89.5,196.9 L89.9,195.7 L90.4,194.5 L90.8,193.3 L91.2,192.2 L91.6,191.1 L92.1,190.0 L92.5,188.9 L92.9,187.9 L93.3,186.8 L93.7,185.8 L94.2,184.8 L94.6,183.8 L95.0,182.8 L95.4,181.8 L95.9,180.9 L96.3,179.9 L96.7,179.0 L97.1,178.1 L97.5,177.2 L98.0,176.2 L98.4,175.3 L98.8,174.4 L99.2,173.6 L99.7,172.7 L100.1,171.8 L100.5,170.9 L100.9,170.1 L101.4,169.3 L101.8,168.4 L102.2,167.6 L102.6,166.8 L103.0,166.1 L103.5,165.3 L103.9,164.5 L104.3,163.8 L104.7,163.1 L105.2,162.4 L105.6,161.7 L106.0,161.1 L106.4,160.4 L106.9,159.8 L107.3,159.1 L107.7,158.5 L108.1,157.9 L108.5,157.3 L109.0,156.7 L109.4,156.1 L109.8,155.6 L110.2,155.0 L110.7,154.5 L111.1,153.9 L111.5,153.4 L111.9,152.8 L112.3,152.3 L112.8,151.7 L113.2,151.2 L113.6,150.7 L114.0,150.1 L114.5,149.6 L114.9,149.1 L115.3,148.5 L115.7,148.0 L116.2,147.5 L116.6,146.9 L117.0,146.4 L117.4,145.9 L117.8,145.4 L118.3,144.9 L118.7,144.3 L119.1,143.8 L119.5,143.3 L120.0,142.8 L120.4,142.3 L120.8,141.9 L121.2,141.4 L121.7,140.9 L122.1,140.5 L122.5,140.0 L122.9,139.6 L123.3,139.1 L123.8,138.7 L124.2,138.3 L124.6,137.9 L125.0,137.4 L125.5,137.0 L125.9,136.6 L126.3,136.2 L126.7,135.8 L127.2,135.4 L127.6,135.1 L128.0,134.7 L128.4,134.3 L128.8,134.0 L129.3,133.6 L129.7,133.3 L130.1,133.0 L130.5,132.7 L131.0,132.3 L131.4,132.0 L131.8,131.7 L132.2,131.4 L132.6,131.1 L133.1,130.8 L133.5,130.5 L133.9,130.2 L134.3,129.9 L134.8,129.7 L135.2,129.4 L135.6,129.2 L136.0,129.0 L136.5,128.8 L136.9,128.6 L137.3,128.4 L137.7,128.3 L138.1,128.1 L138.6,128.0 L139.0,127.8 L139.4,127.7 L139.8,127.6 L140.3,127.4 L140.7,127.3 L141.1,127.2 L141.5,127.1 L142.0,127.0 L142.4,126.9 L142.8,126.8 L143.2,126.7 L143.6,126.6 L144.1,126.6 L144.5,126.5 L144.9,126.5 L145.3,126.4 L145.8,126.4 L146.2,126.4 L146.6,126.4 L147.0,126.4 L147.5,126.5 L147.9,126.6 L148.3,126.7 L148.7,126.8 L149.1,126.9 L149.6,127.1 L150.0,127.2 L150.4,127.4 L150.8,127.6 L151.3,127.8 L151.7,128.0 L152.1,128.2 L152.5,128.4 L152.9,128.6 L153.4,128.8 L153.8,129.1 L154.2,129.3 L154.6,129.6 L155.1,130.0 L155.5,130.4 L155.9,130.7 L156.3,131.2 L156.8,131.6 L157.2,132.1 L157.6,132.5 L158.0,133.0 L158.4,133.5 L158.9,134.0 L159.3,134.5 L159.7,135.0 L160.1,135.5 L160.6,136.1 L161.0,136.6 L161.4,137.2 L161.8,137.8 L162.3,138.5 L162.7,139.1 L163.1,139.8 L163.5,140.4 L163.9,141.1 L164.4,141.7 L164.8,142.4 L165.2,143.1 L165.6,143.7 L166.1,144.4 L166.5,145.0 L166.9,145.7 L167.3,146.3 L167.7,146.9 L168.2,147.5 L168.6,148.1 L169.0,148.7 L169.4,149.3 L169.9,149.9 L170.3,150.6 L170.7,151.2 L171.1,151.8 L171.6,152.4 L172.0,153.1 L172.4,153.7 L172.8,154.3 L173.2,154.9 L173.7,155.5 L174.1,156.1 L174.5,156.6 L174.9,157.2 L175.4,157.7 L175.8,158.2 L176.2,158.7 L176.6,159.2 L177.1,159.7 L177.5,160.1 L177.9,160.5 L178.3,160.9 L178.7,161.3 L179.2,161.7 L179.6,162.1 L180.0,162.4 L180.4,162.8 L180.9,163.2 L181.3,163.6 L181.7,163.9 L182.1,164.3 L182.6,164.6 L183.0,164.9 L183.4,165.2 L183.8,165.5 L184.2,165.8 L184.7,166.0 L185.1,166.3 L185.5,166.5 L185.9,166.7 L186.4,166.9 L186.8,167.1 L187.2,167.2 L187.6,167.3 L188.0,167.5 L188.5,167.6 L188.9,167.7 L189.3,167.8 L189.7,167.9 L190.2,168.0 L190.6,168.1 L191.0,168.2 L191.4,168.3 L191.9,168.4 L192.3,168.5 L192.7,168.6 L193.1,168.6 L193.5,168.7 L194.0,168.7 L194.4,168.8 L194.8,168.8 L195.2,168.8 L195.7,168.8 L196.1,168.8 L196.5,168.8 L196.9,168.7 L197.4,168.7 L197.8,168.6 L198.2,168.6 L198.6,168.5 L199.0,168.4 L199.5,168.3 L199.9,168.3 L200.3,168.2 L200.7,168.1 L201.2,167.9 L201.6,167.8 L202.0,167.7 L202.4,167.6 L202.9,167.5 L203.3,167.3 L203.7,167.2 L204.1,167.1 L204.5,166.9 L205.0,166.7 L205.4,166.5 L205.8,166.3 L206.2,166.0 L206.7,165.8 L207.1,165.5 L207.5,165.2 L207.9,164.9 L208.3,164.6 L208.8,164.3 L209.2,163.9 L209.6,163.6 L210.0,163.2 L210.5,162.8 L210.9,162.4 L211.3,162.1 L211.7,161.7 L212.2,161.3 L212.6,160.9 L213.0,160.5 L213.4,160.1 L213.8,159.7 L214.3,159.2 L214.7,158.7 L215.1,158.2 L215.5,157.7 L216.0,157.2 L216.4,156.6 L216.8,156.1 L217.2,155.5 L217.7,154.9 L218.1,154.3 L218.5,153.7 L218.9,153.1 L219.3,152.4 L219.8,151.8 L220.2,151.2 L220.6,150.6 L221.0,149.9 L221.5,149.3 L221.9,148.7 L222.3,148.1 L222.7,147.5 L223.2,146.9 L223.6,146.3 L224.0,145.7 L224.4,145.0 L224.8,144.4 L225.3,143.7 L225.7,143.1 L226.1,142.4 L226.5,141.7 L227.0,141.1 L227.4,140.4 L227.8,139.8 L228.2,139.1 L228.6,138.5 L229.1,137.8 L229.5,137.2 L229.9,136.6 L230.3,136.1 L230.8,135.5 L231.2,135.0 L231.6,134.5 L232.0,134.0 L232.5,133.5 L232.9,133.0 L233.3,132.5 L233.7,132.1 L234.1,131.6 L234.6,131.2 L235.0,130.7 L235.4,130.4 L235.8,130.0 L236.3,129.6 L236.7,129.3 L237.1,129.1 L237.5,128.8 L238.0,128.6 L238.4,128.4 L238.8,128.2 L239.2,128.0 L239.6,127.8 L240.1,127.6 L240.5,127.4 L240.9,127.2 L241.3,127.1 L241.8,126.9 L242.2,126.8 L242.6,126.7 L243.0,126.6 L243.4,126.5 L243.9,126.4 L244.3,126.4 L244.7,126.4 L245.1,126.4 L245.6,126.4 L246.0,126.5 L246.4,126.5 L246.8,126.6 L247.3,126.6 L247.7,126.7 L248.1,126.8 L248.5,126.9 L248.9,127.0 L249.4,127.1 L249.8,127.2 L250.2,127.3 L250.6,127.4 L251.1,127.6 L251.5,127.7 L251.9,127.8 L252.3,128.0 L252.8,128.1 L253.2,128.3 L253.6,128.4 L254.0,128.6 L254.4,128.8 L254.9,129.0 L255.3,129.2 L255.7,129.4 L256.1,129.7 L256.6,129.9 L257.0,130.2 L257.4,130.5 L257.8,130.8 L258.3,131.1 L258.7,131.4 L259.1,131.7 L259.5,132.0 L259.9,132.3 L260.4,132.7 L260.8,133.0 L261.2,133.3 L261.6,133.6 L262.1,134.0 L262.5,134.3 L262.9,134.7 L263.3,135.1 L263.7,135.4 L264.2,135.8 L264.6,136.2 L265.0,136.6 L265.4,137.0 L265.9,137.4 L266.3,137.9 L266.7,138.3 L267.1,138.7 L267.6,139.1 L268.0,139.6 L268.4,140.0 L268.8,140.5 L269.2,140.9 L269.7,141.4 L270.1,141.9 L270.5,142.3 L270.9,142.8 L271.4,143.3 L271.8,143.8 L272.2,144.3 L272.6,144.9 L273.1,145.4 L273.5,145.9 L273.9,146.4 L274.3,146.9 L274.7,147.5 L275.2,148.0 L275.6,148.5 L276.0,149.1 L276.4,149.6 L276.9,150.1 L277.3,150.7 L277.7,151.2 L278.1,151.7 L278.6,152.3 L279.0,152.8 L279.4,153.4 L279.8,153.9 L280.2,154.5 L280.7,155.0 L281.1,155.6 L281.5,156.1 L281.9,156.7 L282.4,157.3 L282.8,157.9 L283.2,158.5 L283.6,159.1 L284.0,159.8 L284.5,160.4 L284.9,161.1 L285.3,161.7 L285.7,162.4 L286.2,163.1 L286.6,163.8 L287.0,164.5 L287.4,165.3 L287.9,166.1 L288.3,166.8 L288.7,167.6 L289.1,168.4 L289.5,169.3 L290.0,170.1 L290.4,170.9 L290.8,171.8 L291.2,172.7 L291.7,173.6 L292.1,174.4 L292.5,175.3 L292.9,176.2 L293.4,177.2 L293.8,178.1 L294.2,179.0 L294.6,179.9 L295.0,180.9 L295.5,181.8 L295.9,182.8 L296.3,183.8 L296.7,184.8 L297.2,185.8 L297.6,186.8 L298.0,187.9 L298.4,188.9 L298.8,190.0 L299.3,191.1 L299.7,192.2 L300.1,193.3 L300.5,194.5 L301.0,195.7 L301.4,196.9 L301.8,198.2 L302.2,199.4 L302.7,200.6 L303.1,201.7 L303.5,202.8 L303.9,203.8 L304.3,204.8 L304.8,205.8 L305.2,206.8 L305.6,207.7 L306.0,208.7 L306.5,209.6 L306.9,210.5 L307.3,211.4 L307.7,212.3 L308.2,213.2 L308.6,214.1 L309.0,215.0 L309.4,215.8 L309.8,216.7 L310.3,217.5 L310.7,218.3 L311.1,219.2 L311.5,220.0 L312.0,220.8 L312.4,221.6 L312.8,222.4 L313.2,223.1 L313.7,223.9 L314.1,224.7 L314.5,225.5 L314.9,226.2 L315.3,227.0 L315.8,227.7 L316.2,228.5 L316.6,229.2 L317.0,229.9 L317.5,230.6 L317.9,231.3 L318.3,232.0 L318.7,232.7 L319.1,233.3 L319.6,234.0 L320.0,234.7 L320.4,235.3 L320.8,235.9 L321.3,236.6 L321.7,237.2 L322.1,237.8 L322.5,238.3 L323.0,238.9 L323.4,239.4 L323.8,239.9 L324.2,240.5 L324.6,241.0 L325.1,241.5 L325.5,242.0 L325.9,242.5 L326.3,243.0 L326.8,243.4 L327.2,243.9 L327.6,244.3 L328.0,244.8 L328.5,245.2 L328.9,245.6 L329.3,246.0 L329.7,246.3 L330.1,246.7 L330.6,247.0 L331.0,247.3 L331.4,247.6 L331.8,247.9 L332.3,248.2 L332.7,248.5 L333.1,248.8 L333.5,249.0 L334.0,249.3 L334.4,249.6 L334.8,249.8 L335.2,250.0 L335.6,250.2 L336.1,250.5 L336.5,250.6 L336.9,250.8 L337.3,251.0 L337.8,251.2 L338.2,251.3 L338.6,251.5 L339.0,251.6 L339.4,251.7 L339.9,251.9 L340.3,252.0 L340.7,252.2 L341.1,252.3 L341.6,252.4 L342.0,252.5 L342.4,252.6 L342.8,252.7 L343.3,252.9 L343.7,253.0 L344.1,253.1 L344.5,253.1 L344.9,253.2 L345.4,253.3 L345.8,253.4 L346.2,253.4 L346.6,253.5 L347.1,253.6 L347.5,253.6 L347.9,253.7 L348.3,253.7 L348.8,253.7 L349.2,253.8 L349.6,253.8 L350.0,253.9 L350.4,253.9 L350.9,253.9 L351.3,254.0 L351.7,254.0 L352.1,254.0 L352.6,254.0 L353.0,254.1 L353.4,254.1 L353.8,254.1 L354.3,254.1 L354.7,254.2 L355.1,254.2 L355.5,254.2 L355.9,254.2 L356.4,254.2 L356.8,254.2 L357.2,254.2 L357.6,254.3 L358.1,254.3 L358.5,254.3 L358.9,254.3 L359.3,254.3 L359.7,254.3 L360.2,254.3 L360.6,254.3 L361.0,254.4 L361.4,254.4 L361.9,254.4 L362.3,254.4 L362.7,254.4 L363.1,254.4 L363.6,254.4 L364.0,254.4 L364.4,254.4" stroke="#ff1010" stroke-width="1.9" stroke-dasharray="10.9 6.36" stroke-dashoffset="12.44"/>
<path d="M26.7,254.5 L35.1,254.3 L43.5,253.9 L52.0,252.2 L60.4,248.0 L68.8,239.4 L77.3,226.2 L85.7,209.5 L94.2,190.1 L102.6,167.1 L111.0,150.5 L119.5,138.9 L127.9,127.2 L136.4,120.6 L144.8,119.9 L153.2,126.5 L161.7,139.1 L170.1,155.6 L170.3,155.9 L170.7,156.6 L171.1,157.3 L171.6,158.0 L172.0,158.7 L172.4,159.4 L172.8,160.1 L173.2,160.8 L173.7,161.4 L174.1,162.0 L174.5,162.7 L174.9,163.3 L175.4,163.8 L175.8,164.4 L176.2,164.9 L176.6,165.4 L177.1,165.9 L177.5,166.4 L177.9,166.8 L178.3,167.2 L178.7,167.6 L179.2,168.0 L179.6,168.4 L180.0,168.8 L180.4,169.2 L180.9,169.6 L181.3,170.0 L181.7,170.3 L182.1,170.7 L182.6,171.0 L183.0,171.3 L183.4,171.7 L183.8,172.0 L184.2,172.2 L184.7,172.5 L185.1,172.8 L185.5,173.0 L185.9,173.2 L186.4,173.4 L186.8,173.6 L187.2,173.8 L187.6,174.0 L188.0,174.1 L188.5,174.3 L188.9,174.4 L189.3,174.6 L189.7,174.8 L190.2,174.9 L190.6,175.0 L191.0,175.2 L191.4,175.3 L191.9,175.4 L192.3,175.5 L192.7,175.6 L193.1,175.7 L193.5,175.8 L194.0,175.9 L194.4,175.9 L194.8,176.0 L195.2,176.0 L195.7,176.0 L196.1,176.0 L196.5,176.0 L196.9,175.9 L197.4,175.9 L197.8,175.8 L198.2,175.7 L198.6,175.6 L199.0,175.5 L199.5,175.4 L199.9,175.2 L200.3,175.1 L200.7,174.9 L201.2,174.8 L201.6,174.6 L202.0,174.5 L202.4,174.3 L202.9,174.1 L203.3,174.0 L203.7,173.8 L204.1,173.6 L204.5,173.4 L205.0,173.2 L205.4,173.0 L205.8,172.8 L206.2,172.5 L206.7,172.2 L207.1,171.9 L207.5,171.6 L207.9,171.3 L208.3,171.0 L208.8,170.7 L209.2,170.3 L209.6,170.0 L210.0,169.6 L210.5,169.2 L210.9,168.8 L211.3,168.4 L211.7,168.0 L212.2,167.6 L212.6,167.2 L213.0,166.8 L213.4,166.4 L213.8,165.9 L214.3,165.4 L214.7,164.9 L215.1,164.4 L215.5,163.8 L216.0,163.3 L216.4,162.7 L216.8,162.0 L217.2,161.4 L217.7,160.8 L218.1,160.1 L218.5,159.4 L218.9,158.7 L219.3,158.0 L219.8,157.3 L220.2,156.6 L220.6,155.9 L220.8,155.6 L229.2,139.1 L237.6,126.5 L246.1,119.9 L254.5,120.6 L263.0,127.2 L271.4,138.9 L279.8,150.5 L288.3,167.1 L296.7,190.1 L305.2,209.5 L313.6,226.2 L322.0,239.4 L330.5,248.0 L338.9,252.2 L347.4,253.9 L355.8,254.3 L364.2,254.5" stroke="#85058a" stroke-width="1.7"/>
</g>
<g id="txt">
<g font-size="12"><line x1="43.30" y1="262.55" x2="49.45" y2="262.55" stroke="#111" stroke-width="0.75"/><text x="51.20" y="266.1">3</text><line x1="91.60" y1="262.55" x2="97.75" y2="262.55" stroke="#111" stroke-width="0.75"/><text x="99.50" y="266.1">2</text><line x1="139.90" y1="262.55" x2="146.05" y2="262.55" stroke="#111" stroke-width="0.75"/><text x="147.80" y="266.1">1</text><text x="195.45" y="266.1" text-anchor="middle">0</text><text x="243.75" y="266.1" text-anchor="middle">1</text><text x="292.05" y="266.1" text-anchor="middle">2</text><text x="340.35" y="266.1" text-anchor="middle">3</text><text x="23.8" y="258.25" text-anchor="end">0</text><text x="23.8" y="198.45" text-anchor="end">2</text><text x="23.8" y="138.65" text-anchor="end">4</text><text x="23.8" y="78.85" text-anchor="end">6</text><text x="23.8" y="19.05" text-anchor="end">8</text></g>
<text x="195.9" y="18.7" font-size="12.2" text-anchor="middle">Baryon density at 10.5 fm/c</text>
<g fill="none">
<line x1="50.1" y1="37.05" x2="75" y2="37.05" stroke="#111" stroke-width="1.3"/>
<line x1="50.2" y1="52.8" x2="74.4" y2="52.8" stroke="#0000ff" stroke-width="1.8" stroke-dasharray="2.05 0.7"/>
<line x1="146.6" y1="37" x2="170.9" y2="37" stroke="#00b000" stroke-width="1.6" stroke-dasharray="5 1.4"/>
<line x1="146.6" y1="52.8" x2="171.3" y2="52.8" stroke="#ff1010" stroke-width="1.8" stroke-dasharray="5.9 3.5"/>
<line x1="238.9" y1="37" x2="263.4" y2="37" stroke="#85058a" stroke-width="1.7"/>
</g>
<g font-size="9">
<text x="80" y="40.1">Initial Profile</text>
<text y="55.7"><tspan x="80">RTA</tspan><tspan x="98.4" font-style="italic">C</tspan><tspan x="104.3" y="57.7" font-style="italic" font-size="7.8">B</tspan><tspan x="111.6" y="56.2" font-size="10.5">=</tspan><tspan x="120.4" y="55.7">0.05</tspan></text>
<text y="40.1"><tspan x="176">RTA</tspan><tspan x="194.4" font-style="italic">C</tspan><tspan x="200.3" y="42.1" font-style="italic" font-size="7.8">B</tspan><tspan x="207.6" y="40.6" font-size="10.5">=</tspan><tspan x="216.4" y="40.1">0.4</tspan></text>
<text y="55.7"><tspan x="176">RTA</tspan><tspan x="194.4" font-style="italic">C</tspan><tspan x="200.3" y="57.7" font-style="italic" font-size="7.8">B</tspan><tspan x="207.6" y="56.2" font-size="10.5">=</tspan><tspan x="216.4" y="55.7">1.2</tspan></text>
<text x="268.4" y="40.1">Holographic Model</text>
</g>
<text x="190.5" y="282.1" font-size="12" font-style="italic">&#951;<tspan font-size="8.3" dx="0.3" dy="2.6">s</tspan></text>
<text transform="translate(10.7,155.2) rotate(-90)" font-size="12" letter-spacing="0.6"><tspan font-style="italic">&#961;</tspan><tspan font-style="italic" font-size="8.3" dy="1.8">B</tspan><tspan dy="-1.8" dx="1.1" font-style="italic">&#964;</tspan></text>
<text transform="translate(10.7,132.5) rotate(-90)" font-size="11.5" textLength="29.6" lengthAdjust="spacing">[fm<tspan font-size="8.3" dy="-4.2">&#8722;2</tspan><tspan dy="4.2">]</tspan></text>
</g>
</svg>
</body></html>
